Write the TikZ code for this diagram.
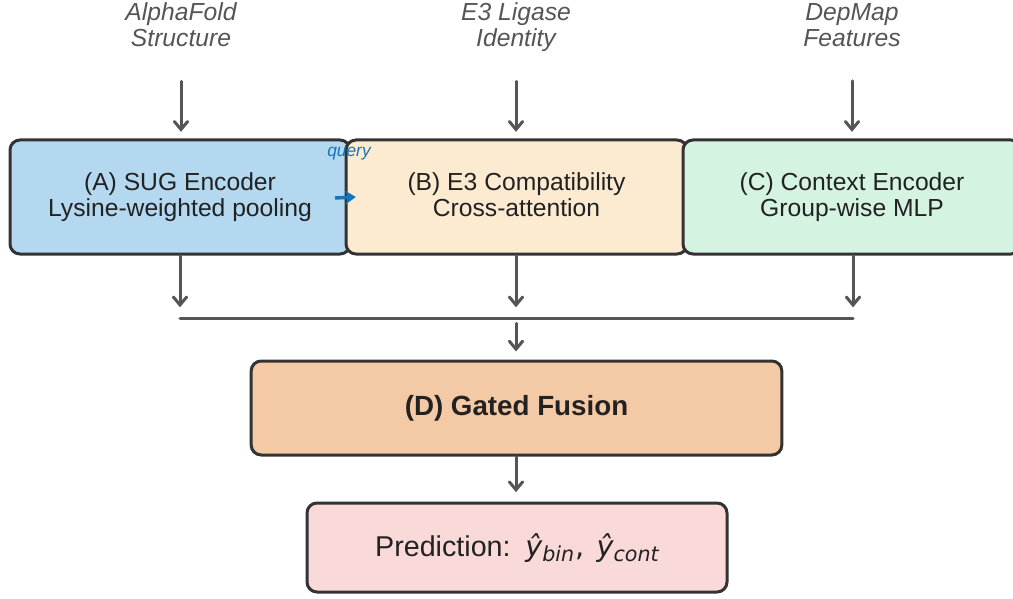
\documentclass[tikz,border=0pt]{standalone}
\usepackage{fontspec}
\setmainfont{Liberation Sans}
\newfontfamily\dvsans{DejaVu Sans}
\usetikzlibrary{arrows.meta}

\definecolor{sugfill}{HTML}{B3D8F0}
\definecolor{efill}{HTML}{FCEBD0}
\definecolor{ctxfill}{HTML}{D4F3E1}
\definecolor{gatefill}{HTML}{F4C9A5}
\definecolor{predfill}{HTML}{F9DAD8}
\definecolor{boxline}{HTML}{333333}
\definecolor{flowgray}{HTML}{555555}
\definecolor{textdark}{HTML}{222222}
\definecolor{queryblue}{HTML}{1A75B8}

\newcommand{\yhatsub}[1]{{\dvsans\itshape ŷ}\raisebox{-3.5pt}{\fontsize{15.5}{16}\selectfont\dvsans\itshape #1}}
\newcommand{\topstrut}{\rule{0pt}{15pt}}
\newcommand{\botstrut}{\rule[-4.2pt]{0pt}{4.2pt}}

\tikzset{
  modbox/.style={draw=boxline, line width=2.25pt, rounded corners=7.5pt,
    minimum width=255pt, minimum height=85.5pt, align=center, text=textdark,
    font=\fontsize{18.5}{19.5}\selectfont,
    execute at begin node=\topstrut, execute at end node=\botstrut},
  srclabel/.style={align=center, inner sep=0pt, text=flowgray,
    font=\fontsize{18.5}{19.5}\selectfont\itshape,
    execute at begin node=\strut, execute at end node=\strut},
  flow/.style={draw=flowgray, line width=2.25pt, line cap=round,
    -{Straight Barb[length=6pt,width=10pt,line cap=round]}},
  bar/.style={draw=flowgray, line width=2.25pt, line cap=round}
}

\begin{document}
\begin{tikzpicture}[x=0.75pt,y=-0.75pt]
\useasboundingbox (0,0) rectangle (1013,599);

% input sources
\node[srclabel] (srcA) at (181,28.5) {AlphaFold\\Structure};
\node[srclabel] (srcB) at (516,28.5) {E3 Ligase\\Identity};
\node[srclabel] (srcC) at (852,28.5) {DepMap\\Features};

% modules
\node[modbox, fill=sugfill] (sug) at (180,197) {(A) SUG Encoder\\Lysine-weighted pooling};
\node[modbox, fill=efill, minimum width=255.75pt] (ethree) at (516.5,197) {(B) E3 Compatibility\\Cross-attention};
\node[modbox, fill=ctxfill, minimum width=253.5pt] (ctx) at (852,197) {(C) Context Encoder\\Group-wise MLP};

\node[modbox, fill=gatefill, minimum width=398pt, minimum height=70.5pt,
  text height=15pt, text depth=3.2pt,
  font=\fontsize{20.8}{22}\selectfont\bfseries] (gate) at (516.5,408) {(D) Gated Fusion};
\node[modbox, fill=predfill, minimum width=315pt, minimum height=66.75pt,
  text height=16pt, text depth=2.7pt,
  font=\fontsize{21.5}{22}\selectfont] (pred) at (517,547.5)
  {Prediction:\hspace{11pt}\yhatsub{bin}\hspace{1pt}{\dvsans,}\hspace{9pt}\yhatsub{cont}};

% query hint
\node[text=queryblue, font=\fontsize{13}{14}\selectfont\itshape, inner sep=0pt] (qlbl) at (349,154) {query};
\coordinate (qs) at (335,198);
\draw[draw=queryblue, line width=2.6pt, -{Stealth[length=8pt,width=10.5pt]}] (qs) -- ([xshift=8.5pt]ethree.west);

% inputs into modules
\draw[flow, shorten <=20pt, shorten >=5pt] (srcA) -- (sug.north -| srcA);
\draw[flow, shorten <=20pt, shorten >=5pt] (srcB) -- (ethree.north -| srcB);
\draw[flow, shorten <=20pt, shorten >=5pt] (srcC) -- (ctx.north);

% merge
\coordinate (jA) at (180,318);
\coordinate (jB) at (516,318);
\coordinate (jC) at (853,318);
\draw[flow, shorten >=8pt] (sug.south) -- (jA);
\draw[flow, shorten >=8pt] (ethree.south -| jB) -- (jB);
\draw[flow, shorten >=8pt] (ctx.south -| jC) -- (jC);
\draw[bar] (jA) -- (jC);
\draw[flow, shorten <=4pt, shorten >=6pt] (jB) -- (gate.north -| jB);

\draw[flow, shorten >=7pt] (gate.south -| jB) -- (pred.north -| jB);

\end{tikzpicture}
\end{document}
